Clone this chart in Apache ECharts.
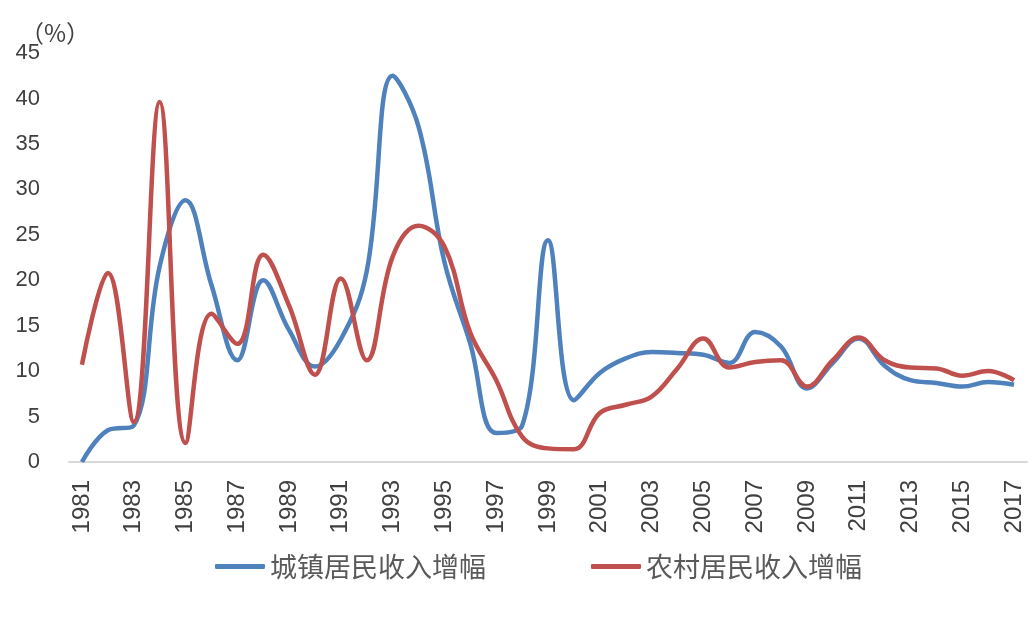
<!DOCTYPE html>
<html>
<head>
<meta charset="utf-8">
<script src="https://cdn.jsdelivr.net/npm/echarts@6/dist/echarts.min.js"></script>
<style>
  html, body { margin: 0; padding: 0; background: #fff; }
  #chart { width: 1036px; height: 618px; }
</style>
</head>
<body>
<div id="chart"></div>
<script>
// 年份
const years = [];
for (let y = 1981; y <= 2017; y++) years.push(y);

// 城镇居民收入增幅 (%)
const urbanGrowth = [
  0, 3.5, 4, 21.5, 28.8, 19.5, 11.2, 20, 14.5, 10.5,
  13.5, 21, 42.5, 36.9, 22, 13, 3.2, 4, 24.4, 6.8,
  9.8, 11.4, 12.1, 12, 11.8, 10.9, 14.3, 12.7, 8.1, 10.9,
  13.6, 10.6, 9, 8.7, 8.3, 8.8, 8.5
];

// 农村居民收入增幅 (%)
const ruralGrowth = [
  10.7, 20.8, 4.4, 39.6, 2.1, 16.3, 13, 22.8, 17.2, 9.6,
  20.2, 11.2, 22.6, 26, 23.7, 14.2, 9, 2.8, 1.5, 1.4,
  5.4, 6.3, 7.2, 10.3, 13.6, 10.4, 11, 11.2, 8.3, 11.2,
  13.7, 11.2, 10.4, 10.3, 9.5, 10, 9
];

// X轴显示的刻度
const tickYears = years.filter(y => y % 2 === 1);

const chart = echarts.init(document.getElementById("chart"));

const option = {
  backgroundColor: "#fff",
  animation: false,
  grid: {
    left: 69,
    right: 9,
    top: 53,
    bottom: 156,
    outerBoundsMode: "none"
  },
  // 左上角单位
  graphic: [
    {
      type: "text",
      left: 20,
      top: 21,
      style: {
        text: "（%）",
        fontSize: 24,
        fontFamily: "Noto Sans CJK SC",
        fill: "#404040"
      }
    }
  ],
  legend: {
    top: 548,
    left: 210,
    itemWidth: 50,
    itemHeight: 5,
    itemGap: 105,
    icon: "roundRect",
    textStyle: {
      fontSize: 27,
      fontFamily: "Noto Sans CJK SC",
      color: "#595959"
    },
    data: ["城镇居民收入增幅", "农村居民收入增幅"]
  },
  xAxis: {
    type: "value",
    min: 1980.5,
    max: 2017.5,
    axisLine: {
      show: true,
      lineStyle: { color: "#d9d9d9", width: 2 }
    },
    axisTick: { show: false },
    splitLine: { show: false },
    axisLabel: {
      customValues: tickYears,
      rotate: 90,
      margin: 18,
      fontSize: 24,
      fontFamily: "Liberation Sans",
      color: "#404040",
      formatter: v => String(v)
    }
  },
  yAxis: {
    type: "value",
    min: 0,
    max: 45,
    interval: 5,
    axisLine: { show: false },
    axisTick: { show: false },
    splitLine: { show: false },
    axisLabel: {
      margin: 29,
      fontSize: 22,
      fontFamily: "Liberation Sans",
      color: "#404040"
    }
  },
  series: [
    {
      name: "城镇居民收入增幅",
      type: "line",
      smooth: 0.4,
      showSymbol: false,
      data: years.map((y, i) => [y, urbanGrowth[i]]),
      lineStyle: { color: "#4f81bd", width: 4.5 },
      itemStyle: { color: "#4f81bd" }
    },
    {
      name: "农村居民收入增幅",
      type: "line",
      smooth: 0.4,
      showSymbol: false,
      data: years.map((y, i) => [y, ruralGrowth[i]]),
      lineStyle: { color: "#c0504d", width: 4.5 },
      itemStyle: { color: "#c0504d" }
    }
  ]
};

chart.setOption(option);
</script>
</body>
</html>
